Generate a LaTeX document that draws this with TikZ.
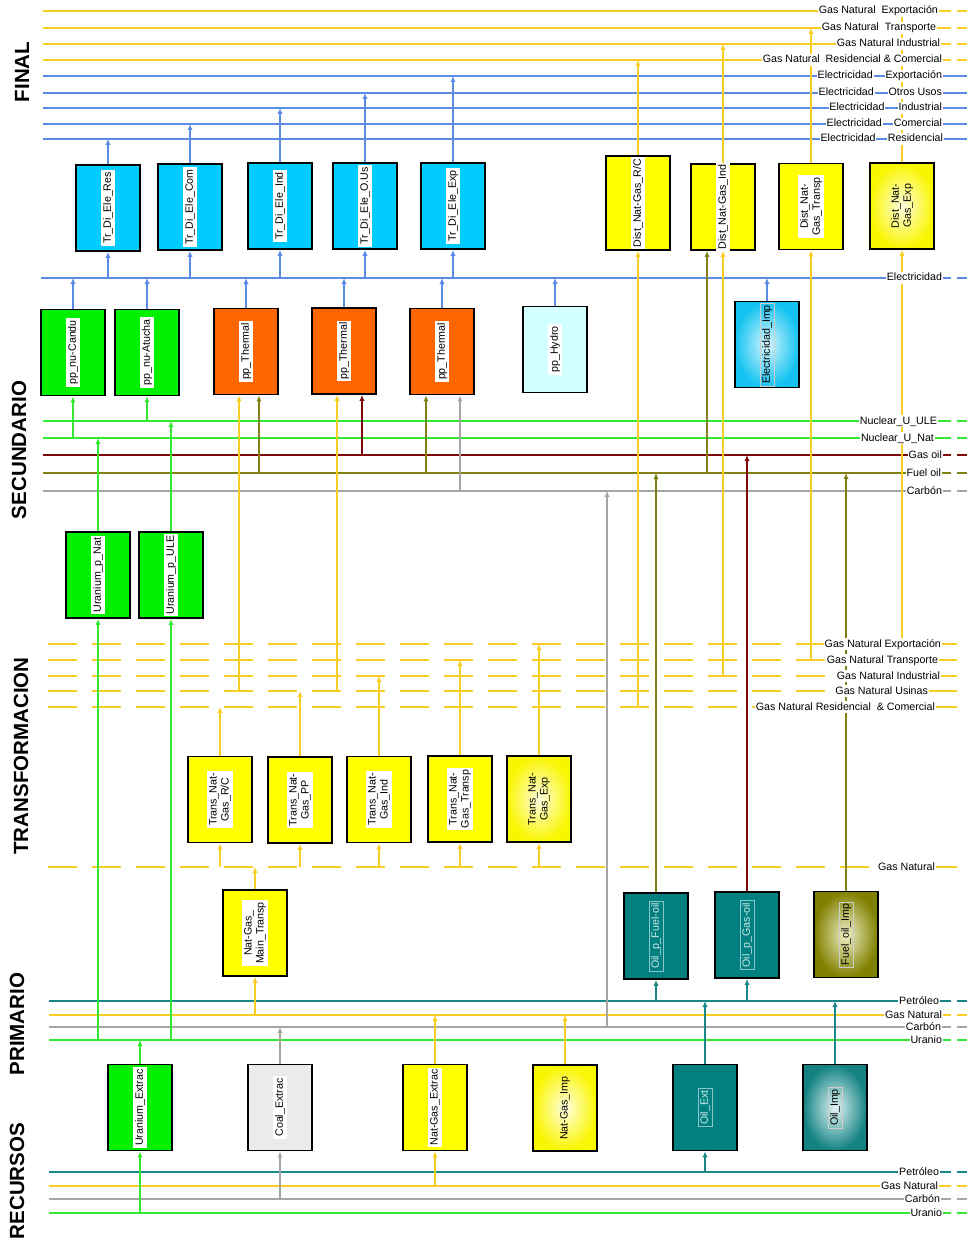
\documentclass[tikz,border=0pt]{standalone}
\usepackage{fontspec}
\setmainfont{Liberation Sans}
\usetikzlibrary{arrows.meta,calc,positioning}
\definecolor{cgas}{RGB}{250,205,35}
\definecolor{cele}{RGB}{90,140,230}
\definecolor{cnuc}{RGB}{50,232,50}
\definecolor{cgo}{RGB}{125,10,10}
\definecolor{cfo}{RGB}{128,128,20}
\definecolor{ccb}{RGB}{165,165,165}
\definecolor{cpet}{RGB}{25,135,135}
\definecolor{fcyan}{RGB}{0,204,255}
\definecolor{fyel}{RGB}{255,255,0}
\definecolor{fgrn}{RGB}{0,240,0}
\definecolor{forg}{RGB}{255,102,0}
\definecolor{fhyd}{RGB}{210,255,255}
\definecolor{fteal}{RGB}{0,128,128}
\definecolor{fgray}{RGB}{235,235,235}
\definecolor{gyi}{RGB}{255,255,225}
\definecolor{gyo}{RGB}{250,245,0}
\definecolor{gei}{RGB}{215,245,255}
\definecolor{geo}{RGB}{20,195,240}
\definecolor{goi}{RGB}{240,240,200}
\definecolor{goo}{RGB}{128,128,0}
\definecolor{gti}{RGB}{225,245,245}
\definecolor{gto}{RGB}{20,130,130}
\begin{document}
\begin{tikzpicture}[x=0.75pt,y=-0.75pt,
 xbox/.style={draw=black,line width=1.4pt,minimum width=48pt,minimum height=64.5pt,inner sep=0pt},
 xtl/.style={rotate=90,fill=white,inner sep=1.5pt,font=\fontsize{8}{9}\selectfont,align=center},
 xtlt/.style={xtl,fill=none,draw=white!55!fteal,line width=0.4pt,text=white!82!fteal},
 xtlg/.style={xtl,fill=none},
 xtlb/.style={xtl,fill=none,draw=white!60!gray,line width=0.3pt},
 xrl/.style={fill=white,inner sep=0.6pt,anchor=east,text height=6pt,text depth=1.5pt,font=\fontsize{8}{9}\selectfont},
 xsec/.style={rotate=90,inner sep=0pt,font=\fontsize{15.4}{16}\selectfont\bfseries},
 xln/.style={line width=1.3pt},
 xar/.style={line width=1.2pt,-{Latex[length=4.5pt,width=4pt]}},
 xdsh/.style={xln,dash pattern=on 21.75pt off 11.25pt}
]
\useasboundingbox (0,0) rectangle (973,1241);

% ---------- section titles
\node[xsec] (sFinal) at (22,72) {FINAL};
\node[xsec] (sSec) at (19,450) {SECUNDARIO};
\node[xsec] (sTra) at (21,756) {TRANSFORMACION};
\node[xsec] (sPri) at (17,1024) {PRIMARIO};
\node[xsec] (sRec) at (17,1181) {RECURSOS};

% ---------- bus line coordinates
\coordinate (Lfgx) at (0,11);
\coordinate (Lfgt) at (0,28);
\coordinate (Lfgi) at (0,44);
\coordinate (Lfgr) at (0,60);
\coordinate (Lfex) at (0,76);
\coordinate (Lfou) at (0,93);
\coordinate (Lfin) at (0,108);
\coordinate (Lfco) at (0,124);
\coordinate (Lfre) at (0,139);
\coordinate (Lele) at (0,278);
\coordinate (Lsule) at (0,421);
\coordinate (Lsnat) at (0,438);
\coordinate (Lsgo) at (0,455);
\coordinate (Lsfo) at (0,473);
\coordinate (Lscb) at (0,491);
\coordinate (Ltex) at (0,644);
\coordinate (Lttr) at (0,660);
\coordinate (Ltin) at (0,676);
\coordinate (Ltus) at (0,691);
\coordinate (Ltrc) at (0,707);
\coordinate (Ltgn) at (0,867);
\coordinate (Lppe) at (0,1001);
\coordinate (Lpgn) at (0,1015);
\coordinate (Lpcb) at (0,1027);
\coordinate (Lpur) at (0,1040);
\coordinate (Lrpe) at (0,1172);
\coordinate (Lrgn) at (0,1186);
\coordinate (Lrcb) at (0,1199);
\coordinate (Lrur) at (0,1213);

% ---------- horizontal lines
\foreach \yy in {11,28,44,60} {\draw[xln,cgas] (43,\yy) -- (951,\yy); \draw[xln,cgas] (957,\yy) -- (967,\yy);}
\foreach \yy in {76,93,108,124,139} \draw[xln,cele] (43,\yy) -- (967,\yy);
\draw[xln,cele] (41,278) -- (951,278); \draw[xln,cele] (957,278) -- (967,278);
\foreach \yy/\cc in {421/cnuc,438/cnuc,455/cgo,473/cfo,491/ccb} {\draw[xln,\cc] (43,\yy) -- (951,\yy); \draw[xln,\cc] (957,\yy) -- (967,\yy);}
\foreach \yy in {644,660,676,691,707,867} \draw[xdsh,cgas] (48,\yy) -- (967,\yy);
\foreach \yy/\cc in {1001/cpet,1015/cgas,1027/ccb,1040/cnuc,1172/cpet,1186/cgas,1199/ccb,1213/cnuc} {\draw[xln,\cc] (49,\yy) -- (951,\yy); \draw[xln,\cc] (957,\yy) -- (967,\yy);}

% ---------- boxes: FINAL
\node[xbox,fill=fcyan] (tres) at (108,208) {};
\node[xbox,fill=fcyan] (tcom) at (190,207) {};
\node[xbox,fill=fcyan] (tind) at (280,206) {};
\node[xbox,fill=fcyan] (tous) at (365,206) {};
\node[xbox,fill=fcyan] (texp) at (453,206) {};
\node[xbox,fill=fyel,minimum height=70.5pt] (drc) at (638,203) {};
\node[xbox,fill=fyel] (dind) at (723,207) {};
\node[xbox,fill=fyel] (dtr) at (811,206.5) {};
\node[xbox,inner color=gyi,outer color=gyo] (dexp) at (902,206) {};
% SECUNDARIO
\node[xbox,fill=fgrn] (candu) at (73,352.5) {};
\node[xbox,fill=fgrn] (atucha) at (147,352.5) {};
\node[xbox,fill=forg] (th1) at (246,351.5) {};
\node[xbox,fill=forg] (th2) at (344,351) {};
\node[xbox,fill=forg] (th3) at (442,351.5) {};
\node[xbox,fill=fhyd] (hydro) at (555,349.5) {};
\node[xbox,inner color=gei,outer color=geo] (eimp) at (767,344.5) {};
\node[xbox,fill=fgrn] (upnat) at (98,575) {};
\node[xbox,fill=fgrn] (upule) at (171,575) {};
% TRANSFORMACION
\node[xbox,fill=fyel] (gtrc) at (220,799.5) {};
\node[xbox,fill=fyel] (gtpp) at (300,800) {};
\node[xbox,fill=fyel] (gtind) at (379,799.5) {};
\node[xbox,fill=fyel] (gttr) at (460,799) {};
\node[xbox,inner color=gyi,outer color=gyo] (gtexp) at (539,799) {};
\node[xbox,fill=fyel] (mtr) at (255,933) {};
\node[xbox,fill=fteal] (opfo) at (656,936) {};
\node[xbox,fill=fteal] (opgo) at (747,935) {};
\node[xbox,inner color=goi,outer color=goo] (foimp) at (846,934.5) {};
% PRIMARIO / RECURSOS
\node[xbox,fill=fgrn] (uex) at (140,1107.5) {};
\node[xbox,fill=fgray] (cex) at (280,1107.5) {};
\node[xbox,fill=fyel] (ngex) at (435,1107.5) {};
\node[xbox,inner color=gyi,outer color=gyo] (ngimp) at (565,1108) {};
\node[xbox,fill=fteal] (oex) at (705,1107.5) {};
\node[xbox,inner color=gti,outer color=gto] (oimp) at (835,1107.5) {};

% ---------- box labels
\node[xtl] (tres-t) at (tres) {Tr\_Di\_Ele\_Res};
\node[xtl] (tcom-t) at (tcom) {Tr\_Di\_Ele\_Com};
\node[xtl] (tind-t) at (tind) {Tr\_Di\_Ele\_Ind};
\node[xtl] (tous-t) at (tous) {Tr\_Di\_Ele\_O.Us};
\node[xtl] (texp-t) at (texp) {Tr\_Di\_Ele\_Exp};
\node[xtl] (drc-t) at (drc) {Dist\_Nat-Gas\_R/C};
\node[xtl] (dind-t) at (dind) {Dist\_Nat-Gas\_Ind};
\node[xtl] (dtr-t) at (dtr) {Dist\_Nat-\\Gas\_Transp};
\node[xtlg] (dexp-t) at (dexp) {Dist\_Nat-\\Gas\_Exp};
\node[xtl] (candu-t) at (candu) {pp\_nu-Candu};
\node[xtl] (atucha-t) at (atucha) {pp\_nu-Atucha};
\node[xtl] (th1-t) at (th1) {pp\_Thermal};
\node[xtl] (th2-t) at (th2) {pp\_Thermal};
\node[xtl] (th3-t) at (th3) {pp\_Thermal};
\node[xtl] (hydro-t) at (hydro) {pp\_Hydro};
\node[xtlb] (eimp-t) at (eimp) {Electricidad\_Imp};
\node[xtl] (upnat-t) at (upnat) {Uranium\_p\_Nat};
\node[xtl] (upule-t) at (upule) {Uranium\_p\_ULE};
\node[xtl] (gtrc-t) at (gtrc) {Trans\_Nat-\\Gas\_R/C};
\node[xtl] (gtpp-t) at (gtpp) {Trans\_Nat-\\Gas\_PP};
\node[xtl] (gtind-t) at (gtind) {Trans\_Nat-\\Gas\_Ind};
\node[xtl] (gttr-t) at (gttr) {Trans\_Nat-\\Gas\_Transp};
\node[xtlg] (gtexp-t) at (gtexp) {Trans\_Nat-\\Gas\_Exp};
\node[xtl] (mtr-t) at (mtr) {Nat-Gas\_\\Main\_Transp};
\node[xtlt] (opfo-t) at (opfo) {Oil\_p\_Fuel-oil};
\node[xtlt] (opgo-t) at (opgo) {Oil\_p\_Gas-oil};
\node[xtlb] (foimp-t) at (foimp) {Fuel\_oil\_Imp};
\node[xtl] (uex-t) at (uex) {Uranium\_Extrac};
\node[xtl] (cex-t) at (cex) {Coal\_Extrac};
\node[xtl] (ngex-t) at (ngex) {Nat-Gas\_Extrac};
\node[xtlg] (ngimp-t) at (ngimp) {Nat-Gas\_Imp};
\node[xtlt] (oex-t) at (oex) {Oil\_Ext};
\node[xtlb] (oimp-t) at (oimp) {Oil\_Imp};

% ---------- offset connector points
\coordinate (th1a) at ($(th1.south)+(-7,0)$);
\coordinate (th1b) at ($(th1.south)+(13,0)$);
\coordinate (th2a) at ($(th2.south)+(-7,0)$);
\coordinate (th2b) at ($(th2.south)+(18,0)$);
\coordinate (th3a) at ($(th3.south)+(-16,0)$);
\coordinate (th3b) at ($(th3.south)+(18,0)$);
\coordinate (dindo) at ($(dind.south)+(-16,0)$);
\coordinate (cbx) at (607,1027);

% ---------- connectors FINAL
\draw[xar,cele] (tres.north) -- (tres.north |- Lfre);
\draw[xar,cele] (tcom.north) -- (tcom.north |- Lfco);
\draw[xar,cele] (tind.north) -- (tind.north |- Lfin);
\draw[xar,cele] (tous.north) -- (tous.north |- Lfou);
\draw[xar,cele] (texp.north) -- (texp.north |- Lfex);
\foreach \n in {tres,tcom,tind,tous,texp} \draw[xar,cele] (\n.south |- Lele) -- (\n.south);
\draw[xar,cgas] (drc.north) -- (drc.north |- Lfgr);
\draw[xar,cgas] (dind.north) -- (dind.north |- Lfgi);
\draw[xar,cgas] (dtr.north) -- (dtr.north |- Lfgt);
\draw[xar,cgas] (dexp.north) -- (dexp.north |- Lfgx);
\draw[xar,cgas] (drc.south |- Ltrc) -- (drc.south);
\draw[xar,cgas] (dind.south |- Ltin) -- (dind.south);
\draw[xar,cgas] (dtr.south |- Lttr) -- (dtr.south);
\draw[xar,cgas] (dexp.south |- Ltex) -- (dexp.south);
\draw[xar,cfo] (dindo |- Lsfo) -- (dindo);

% ---------- connectors SECUNDARIO
\foreach \n in {candu,atucha,th1,th2,th3,hydro,eimp} \draw[xar,cele] (\n.north) -- (\n.north |- Lele);
\draw[xar,cnuc] (candu.south |- Lsnat) -- (candu.south);
\draw[xar,cnuc] (atucha.south |- Lsule) -- (atucha.south);
\draw[xar,cnuc] (upnat.north) -- (upnat.north |- Lsnat);
\draw[xar,cnuc] (upule.north) -- (upule.north |- Lsule);
\draw[xar,cgas] (th1a |- Ltus) -- (th1a);
\draw[xar,cfo] (th1b |- Lsfo) -- (th1b);
\draw[xar,cgas] (th2a |- Ltus) -- (th2a);
\draw[xar,cgo] (th2b |- Lsgo) -- (th2b);
\draw[xar,cfo] (th3a |- Lsfo) -- (th3a);
\draw[xar,ccb] (th3b |- Lscb) -- (th3b);

% ---------- connectors TRANSFORMACION
\draw[xar,cgas] (gtrc.north) -- (gtrc.north |- Ltrc);
\draw[xar,cgas] (gtpp.north) -- (gtpp.north |- Ltus);
\draw[xar,cgas] (gtind.north) -- (gtind.north |- Ltin);
\draw[xar,cgas] (gttr.north) -- (gttr.north |- Lttr);
\draw[xar,cgas] (gtexp.north) -- (gtexp.north |- Ltex);
\foreach \n in {gtrc,gtpp,gtind,gttr,gtexp} \draw[xar,cgas] (\n.south |- Ltgn) -- (\n.south);
\draw[xar,cgas] (mtr.north) -- (mtr.north |- Ltgn);
\draw[xar,cgas] (mtr.south |- Lpgn) -- (mtr.south);
\draw[xar,cfo] (opfo.north) -- (opfo.north |- Lsfo);
\draw[xar,cgo] (opgo.north) -- (opgo.north |- Lsgo);
\draw[xar,cfo] (foimp.north) -- (foimp.north |- Lsfo);
\draw[xar,cpet] (opfo.south |- Lppe) -- (opfo.south);
\draw[xar,cpet] (opgo.south |- Lppe) -- (opgo.south);
\draw[xar,ccb] (cbx) -- (cbx |- Lscb);
\draw[xar,cnuc] (upnat.south |- Lpur) -- (upnat.south);
\draw[xar,cnuc] (upule.south |- Lpur) -- (upule.south);

% ---------- connectors PRIMARIO / RECURSOS
\draw[xar,cnuc] (uex.north) -- (uex.north |- Lpur);
\draw[xar,cnuc] (uex.south |- Lrur) -- (uex.south);
\draw[xar,ccb] (cex.north) -- (cex.north |- Lpcb);
\draw[xar,ccb] (cex.south |- Lrcb) -- (cex.south);
\draw[xar,cgas] (ngex.north) -- (ngex.north |- Lpgn);
\draw[xar,cgas] (ngex.south |- Lrgn) -- (ngex.south);
\draw[xar,cgas] (ngimp.north) -- (ngimp.north |- Lpgn);
\draw[xar,cpet] (oex.north) -- (oex.north |- Lppe);
\draw[xar,cpet] (oex.south |- Lrpe) -- (oex.south);
\draw[xar,cpet] (oimp.north) -- (oimp.north |- Lppe);

% ---------- right-hand line labels
\node[xrl] (lf1) at (939,11) {Gas Natural\ \ Exportación};
\node[xrl] (lf2) at (937,28) {Gas Natural\ \ Transporte};
\node[xrl] (lf3) at (941,44) {Gas Natural Industrial};
\node[xrl] (lf4) at (943,60) {Gas Natural\ \ Residencial \& Comercial};
\node[xrl] (lf5b) at (943,76) {Exportación};
\node[xrl,left=8pt of lf5b] (lf5a) {Electricidad};
\node[xrl] (lf6b) at (943,93) {Otros Usos};
\node[xrl,left=9.5pt of lf6b] (lf6a) {Electricidad};
\node[xrl] (lf7b) at (943,108) {Industrial};
\node[xrl,left=9pt of lf7b] (lf7a) {Electricidad};
\node[xrl] (lf8b) at (943,124) {Comercial};
\node[xrl,left=7.5pt of lf8b] (lf8a) {Electricidad};
\node[xrl] (lf9b) at (944,139) {Residencial};
\node[xrl,left=7.5pt of lf9b] (lf9a) {Electricidad};
\node[xrl] (lele) at (943,278) {Electricidad};
\node[xrl] (ls1) at (938,421) {Nuclear\_U\_ULE};
\node[xrl] (ls2) at (935,438) {Nuclear\_U\_Nat};
\node[xrl] (ls3) at (943,455) {Gas oil};
\node[xrl] (ls4) at (942,473) {Fuel oil};
\node[xrl] (ls5) at (943,491) {Carbón};
\node[xrl] (lt1) at (942,644) {Gas Natural Exportación};
\node[xrl] (lt2) at (939,660) {Gas Natural Transporte};
\node[xrl] (lt3) at (941,676) {Gas Natural Industrial};
\node[xrl] (lt4) at (929,691) {Gas Natural Usinas};
\node[xrl] (lt5) at (936,707) {Gas Natural Residencial\ \ \& Comercial};
\node[xrl] (lt6) at (936,867) {Gas Natural};
\node[xrl] (lp1) at (940,1001) {Petróleo};
\node[xrl] (lp2) at (943,1015) {Gas Natural};
\node[xrl] (lp3) at (942,1027) {Carbón};
\node[xrl] (lp4) at (943,1040) {Uranio};
\node[xrl] (lr1) at (940,1172) {Petróleo};
\node[xrl] (lr2) at (939,1186) {Gas Natural};
\node[xrl] (lr3) at (941,1199) {Carbón};
\node[xrl] (lr4) at (943,1213) {Uranio};
\end{tikzpicture}
\end{document}
